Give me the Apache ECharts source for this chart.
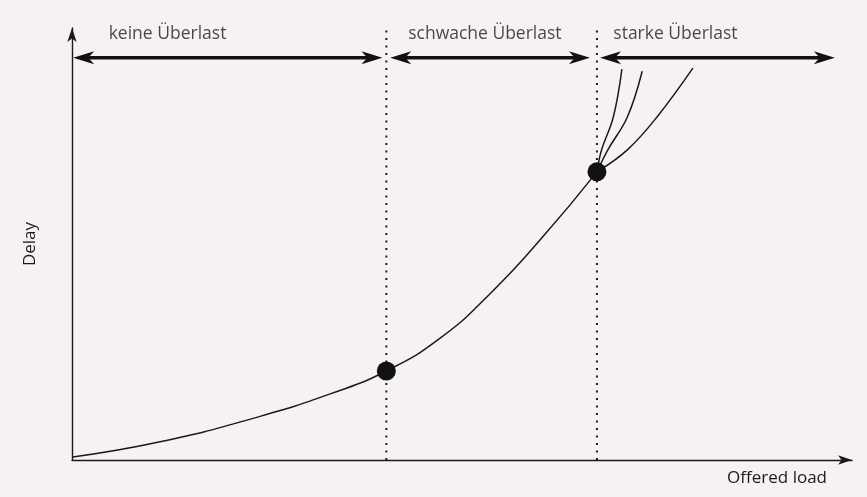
<!DOCTYPE html>
<html>
<head>
<meta charset="utf-8">
<script src="https://cdn.jsdelivr.net/npm/echarts@6/dist/echarts.min.js"></script>
<style>
html,body{margin:0;padding:0;background:#f6f2f2;}
#c{width:867px;height:497px;}
</style>
</head>
<body>
<div id="c"></div>
<script>
// Main delay curve (offered load, delay) in relative units
const mainCurve = [[0.1,0.7],[11.3,4.2],[24.1,10.1],[33.1,15.3],[40.3,20.6],[47.2,28.2],[53.6,38.5],[60.0,50.9],[67.3,66.7]];
// Three branches in the heavy overload region
const branch1 = [[67.3,66.7],[67.9,71.8],[69.4,79.4],[70.5,90.5]];
const branch2 = [[67.3,66.7],[68.7,71.8],[71.2,79.4],[73.1,90.0]];
const branch3 = [[67.3,66.7],[71.2,71.8],[75.0,79.4],[79.6,90.7]];
// Marked points (region boundaries)
const knees = [[40.3,20.6],[67.3,66.7]];
// Region boundaries on the load axis
const boundaries = [40.3, 67.3];
const boundaryTop = 100.7;
// Region arrows [from, to] at arrow level
const arrowLevel = 93.1;
const regionSpans = [[0.15,39.8],[40.8,66.4],[67.7,97.8]];
// Region labels
const regionLabels = ['keine Überlast','schwache Überlast','starke Überlast'];
const labelX = [4.7,43.1,69.4];
const labelY = 98.5;
const xName = 'Offered load';
const yName = 'Delay';

const ink = '#1a1a1a';
const font = 'Open Sans';

const chart = echarts.init(document.getElementById('c'));
const lineStyle = {color: ink, width: 1.5};

function arrowHead(tx, ty, dir) {
  const L = 21, W = 13;
  return {
    type: 'polygon',
    shape: {points: [[tx, ty], [tx - dir * L, ty - W / 2], [tx - dir * L * 0.72, ty], [tx - dir * L, ty + W / 2]]},
    style: {fill: '#111'}
  };
}

const series = [
  {type: 'line', data: mainCurve, smooth: 0.5, symbol: 'none', lineStyle: lineStyle, z: 3},
  {type: 'line', data: branch1, smooth: 0.4, symbol: 'none', lineStyle: lineStyle, z: 3},
  {type: 'line', data: branch2, smooth: 0.4, symbol: 'none', lineStyle: lineStyle, z: 3},
  {type: 'line', data: branch3, smooth: 0.4, symbol: 'none', lineStyle: lineStyle, z: 3},
  {type: 'scatter', data: knees, symbolSize: 19, itemStyle: {color: '#111', opacity: 1}, z: 5}
];
boundaries.forEach(b => series.push({
  type: 'line', data: [[b, 0], [b, boundaryTop]], symbol: 'none', clip: false, silent: true,
  lineStyle: {color: ink, width: 2, type: [2, 5.5]}, z: 2
}));
series.push({
  type: 'custom', silent: true, clip: false, z: 4,
  data: regionSpans.map(s => [s[0], s[1], arrowLevel]),
  renderItem: function (params, api) {
    const p0 = api.coord([api.value(0), api.value(2)]);
    const p1 = api.coord([api.value(1), api.value(2)]);
    return {
      type: 'group',
      children: [
        {type: 'line', shape: {x1: p0[0] + 12, y1: p0[1], x2: p1[0] - 12, y2: p1[1]}, style: {stroke: '#111', lineWidth: 3.5}},
        arrowHead(p0[0], p0[1], -1),
        arrowHead(p1[0], p1[1], 1)
      ]
    };
  }
});
series.push({
  type: 'scatter', symbolSize: 0, silent: true,
  data: regionLabels.map((t, i) => ({value: [labelX[i], labelY], name: t})),
  label: {show: true, position: 'right', distance: 0, formatter: p => p.name,
    fontFamily: font, fontSize: 17.5, color: ink}
});

chart.setOption({
  backgroundColor: '#f6f2f2',
  animation: false,
  grid: {left: 72, right: 15, top: 28, bottom: 37},
  xAxis: {
    type: 'value', min: 0, max: 100,
    axisLine: {show: true, symbol: ['none', 'arrow'], symbolSize: [7, 14], lineStyle: {color: ink, width: 1.4}},
    axisTick: {show: false}, axisLabel: {show: false}, splitLine: {show: false},
    name: xName, nameLocation: 'end', nameGap: -25,
    nameTextStyle: {fontFamily: font, fontSize: 17, color: ink, align: 'right', verticalAlign: 'top', padding: [10, 0, 0, 0]}
  },
  yAxis: {
    type: 'value', min: 0, max: 100,
    axisLine: {show: true, symbol: ['none', 'arrow'], symbolSize: [7, 14], lineStyle: {color: ink, width: 1.4}},
    axisTick: {show: false}, axisLabel: {show: false}, splitLine: {show: false},
    name: yName, nameLocation: 'middle', nameGap: 33, nameRotate: 90,
    nameTextStyle: {fontFamily: font, fontSize: 17, color: ink}
  },
  series: series
});
</script>
</body>
</html>
